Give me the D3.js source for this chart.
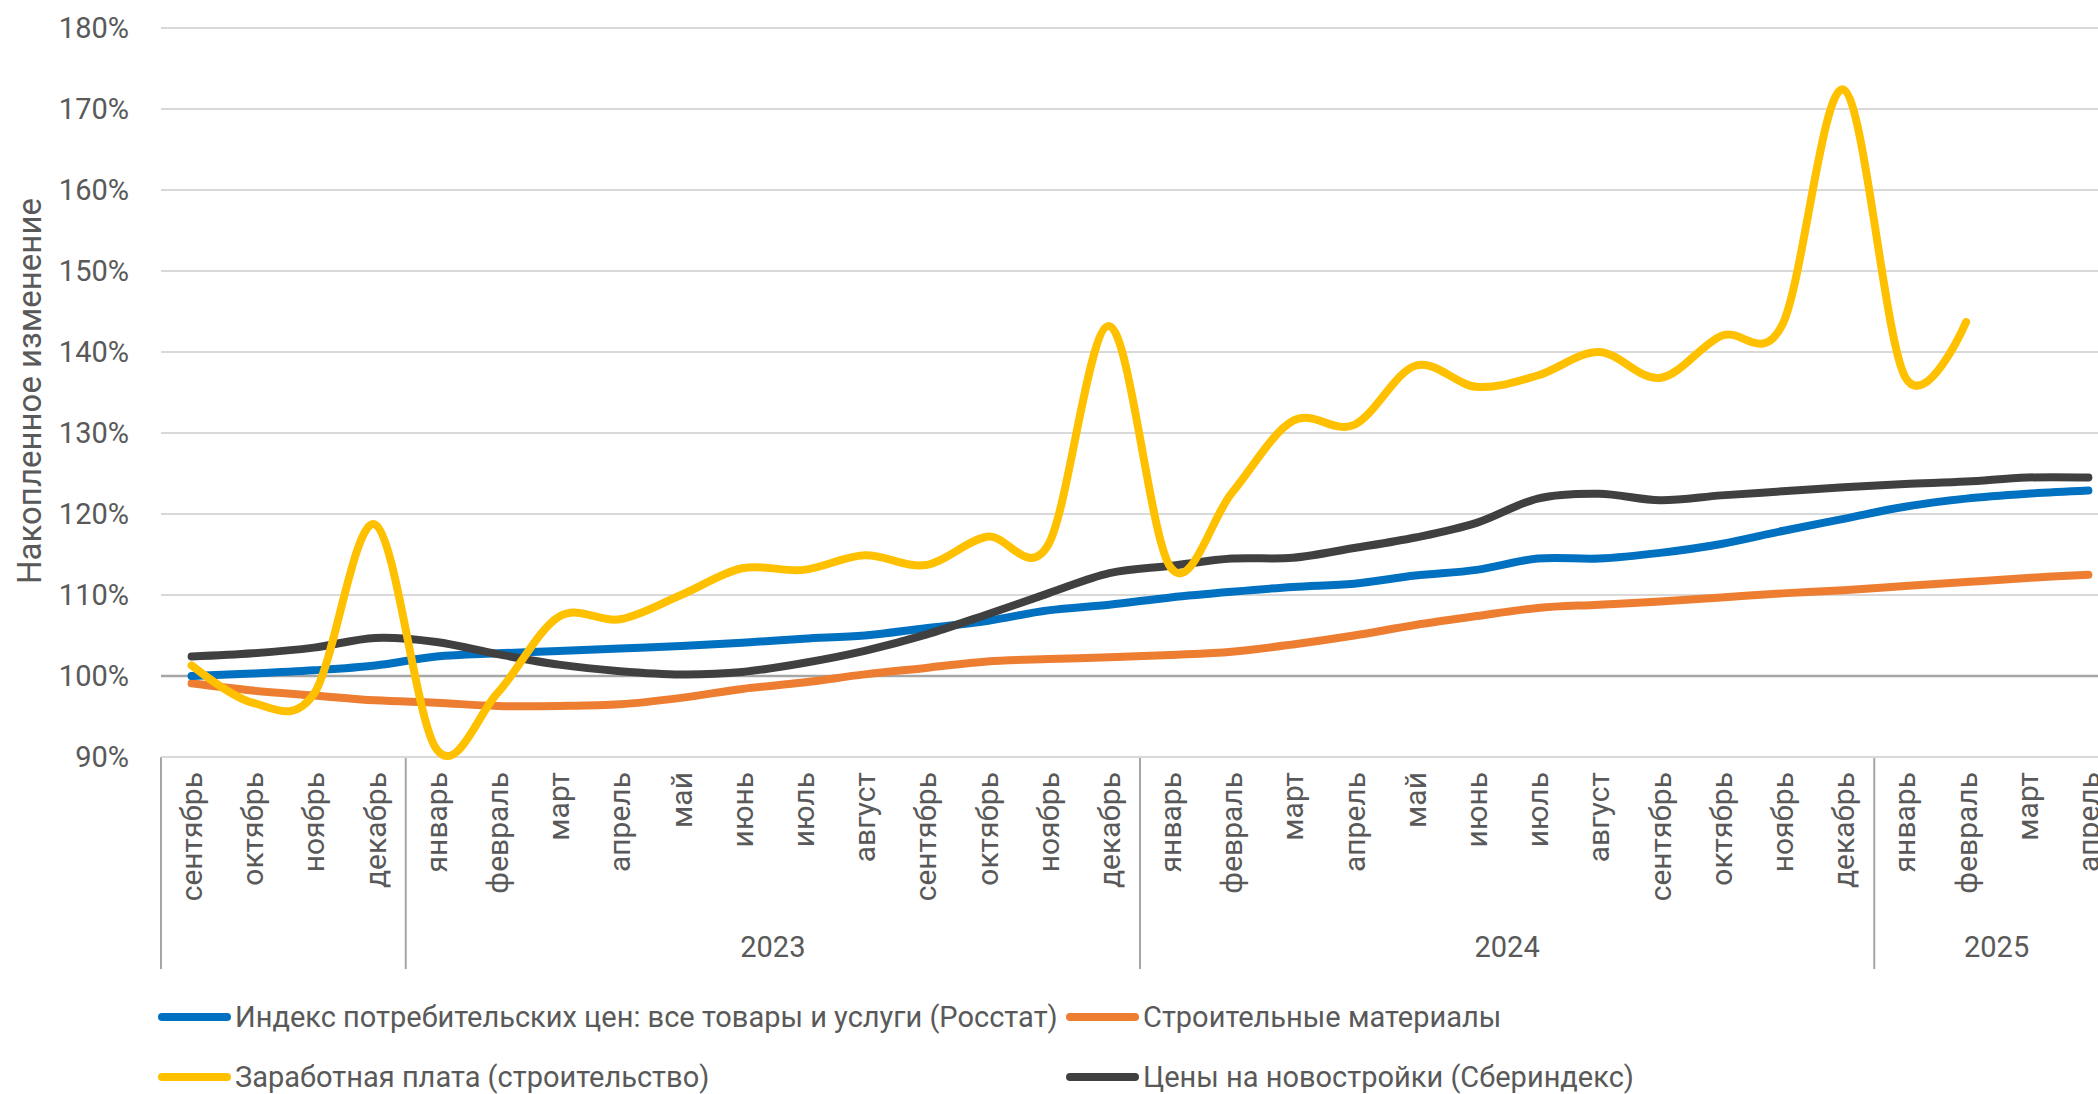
<!DOCTYPE html>
<html>
<head>
<meta charset="utf-8">
<script src="https://d3js.org/d3.v7.min.js"></script>
<style>
  body { margin: 0; background: #fff; overflow: hidden; }
  text { font-family: Roboto, "Open Sans", sans-serif; fill: #595959; }
</style>
</head>
<body>
<script>
// months from Sep 2022 to Apr 2025
var months = ["сентябрь","октябрь","ноябрь","декабрь",
  "январь","февраль","март","апрель","май","июнь","июль","август","сентябрь","октябрь","ноябрь","декабрь",
  "январь","февраль","март","апрель","май","июнь","июль","август","сентябрь","октябрь","ноябрь","декабрь",
  "январь","февраль","март","апрель"]
var yearLabels = ["", "2023", "2024", "2025"]
var yearCounts = [4, 12, 12, 4]
var yTicks = [90, 100, 110, 120, 130, 140, 150, 160, 170, 180]

// накопленное изменение, %
var cpi = [100.0, 100.3, 100.7, 101.3,
  102.4, 102.8, 103.1, 103.4, 103.7, 104.1, 104.6, 105.0, 105.9, 106.8, 108.1, 108.8,
  109.7, 110.4, 111.0, 111.4, 112.4, 113.1, 114.5, 114.5, 115.2, 116.3, 117.9, 119.4,
  120.9, 121.9, 122.5, 122.9]
var materials = [99.1, 98.2, 97.6, 97.0,
  96.7, 96.3, 96.3, 96.5, 97.3, 98.4, 99.2, 100.2, 101.0, 101.8, 102.1, 102.3,
  102.6, 103.0, 103.9, 105.0, 106.3, 107.4, 108.4, 108.8, 109.2, 109.7, 110.2, 110.6,
  111.1, 111.6, 112.1, 112.5]
var wages = [101.3, 96.7, 97.8, 118.7,
  91.0, 97.9, 107.3, 107.0, 110.0, 113.3, 113.1, 114.9, 113.7, 117.2, 116.2, 143.2,
  113.4, 122.6, 131.5, 131.0, 138.3, 135.7, 137.1, 140.0, 136.8, 142.0, 143.4, 172.4,
  137.0, 143.7, null, null]
var newBuild = [102.4, 102.8, 103.5, 104.7,
  104.2, 102.7, 101.4, 100.6, 100.2, 100.5, 101.6, 103.1, 105.1, 107.6, 110.2, 112.7,
  113.6, 114.5, 114.6, 115.8, 117.1, 118.9, 121.9, 122.5, 121.7, 122.3, 122.8, 123.3,
  123.7, 124.0, 124.5, 124.5]

var seriesNames = ["Индекс потребительских цен: все товары и услуги (Росстат)",
  "Строительные материалы", "Заработная плата (строительство)", "Цены на новостройки (Сбериндекс)"]
var seriesColors = ["#0070C0", "#ED7D31", "#FFC000", "#404040"]
var seriesData = [cpi, materials, wages, newBuild]

var W = 2098, H = 1094
var svg = d3.select("body").append("svg")
  .attr("width", W)
  .attr("height", H)

var plotLeft = 161, plotRight = 2119, plotTop = 28, plotBottom = 757

var x = d3.scaleBand()
  .domain(d3.range(months.length))
  .range([plotLeft, plotRight])
  .padding(0)
var y = d3.scaleLinear()
  .domain([90, 180])
  .range([plotBottom, plotTop])

// gridlines
svg.append("g").selectAll("line")
  .data(yTicks)
  .enter().append("line")
  .attr("x1", plotLeft)
  .attr("x2", W)
  .attr("y1", function(d) { return y(d) })
  .attr("y2", function(d) { return y(d) })
  .attr("stroke", function(d) { return d == 100 ? "#a6a6a6" : "#d9d9d9" })
  .attr("stroke-width", function(d) { return d == 100 ? 2.5 : 2 })

// y axis labels
var yAxis = svg.append("g")
  .attr("transform", "translate(" + plotLeft + ",0)")
  .call(d3.axisLeft(y).tickValues(yTicks).tickSize(0).tickPadding(32).tickFormat(function(d) { return d + "%" }))
yAxis.select(".domain").remove()
yAxis.selectAll("text")
  .attr("font-size", "29px")
  .attr("font-family", "Roboto, sans-serif")
  .attr("fill", "#595959")

svg.append("text")
  .attr("transform", "translate(29,391) rotate(-90)")
  .attr("text-anchor", "middle")
  .attr("dominant-baseline", "central")
  .attr("font-size", "33px")
  .text("Накопленное изменение")

// x axis: month labels
svg.append("g").selectAll("text")
  .data(months)
  .enter().append("text")
  .attr("transform", function(d, i) { return "translate(" + (x(i) + x.bandwidth() / 2) + ",772) rotate(-90)" })
  .attr("text-anchor", "end")
  .attr("dominant-baseline", "central")
  .attr("font-size", "30px")
  .text(function(d) { return d })

// year groups
var groupStarts = [0]
yearCounts.forEach(function(c, i) { groupStarts.push(groupStarts[i] + c) })
var sepX = function(k) { return k < months.length ? x(k) : plotRight }
svg.append("g").selectAll("line")
  .data(groupStarts)
  .enter().append("line")
  .attr("x1", function(k) { return sepX(k) })
  .attr("x2", function(k) { return sepX(k) })
  .attr("y1", plotBottom)
  .attr("y2", 969)
  .attr("stroke", "#a6a6a6")
  .attr("stroke-width", 2)
svg.append("g").selectAll("text")
  .data(yearLabels)
  .enter().append("text")
  .attr("x", function(d, i) { return (sepX(groupStarts[i]) + sepX(groupStarts[i + 1])) / 2 })
  .attr("y", 947)
  .attr("text-anchor", "middle")
  .attr("dominant-baseline", "central")
  .attr("font-size", "29px")
  .text(function(d) { return d })

// axis line at 90%
svg.append("line")
  .attr("x1", plotLeft).attr("x2", W)
  .attr("y1", plotBottom).attr("y2", plotBottom)
  .attr("stroke", "#d9d9d9")
  .attr("stroke-width", 2)

// lines
var line = d3.line()
  .defined(function(d) { return d != null })
  .x(function(d, i) { return x(i) + x.bandwidth() / 2 })
  .y(function(d) { return y(d) })
  .curve(d3.curveCardinal.tension(0))

var drawOrder = [1, 0, 3, 2]
drawOrder.forEach(function(s) {
  svg.append("path")
    .datum(seriesData[s])
    .attr("d", line)
    .attr("fill", "none")
    .attr("stroke", seriesColors[s])
    .attr("stroke-width", 8)
    .attr("stroke-linecap", "round")
    .attr("stroke-linejoin", "round")
})

// legend
var legendPos = [[158, 1017], [1066, 1017], [158, 1077], [1066, 1077]]
var legend = svg.append("g").selectAll("g")
  .data(seriesNames)
  .enter().append("g")
  .attr("transform", function(d, i) { return "translate(" + legendPos[i][0] + "," + legendPos[i][1] + ")" })
legend.append("line")
  .attr("x1", 4).attr("x2", 69)
  .attr("y1", 0).attr("y2", 0)
  .attr("stroke", function(d, i) { return seriesColors[i] })
  .attr("stroke-width", 8)
  .attr("stroke-linecap", "round")
legend.append("text")
  .attr("x", 77)
  .attr("y", 0)
  .attr("dominant-baseline", "central")
  .attr("font-size", "29px")
  .text(function(d) { return d })
</script>
</body>
</html>
